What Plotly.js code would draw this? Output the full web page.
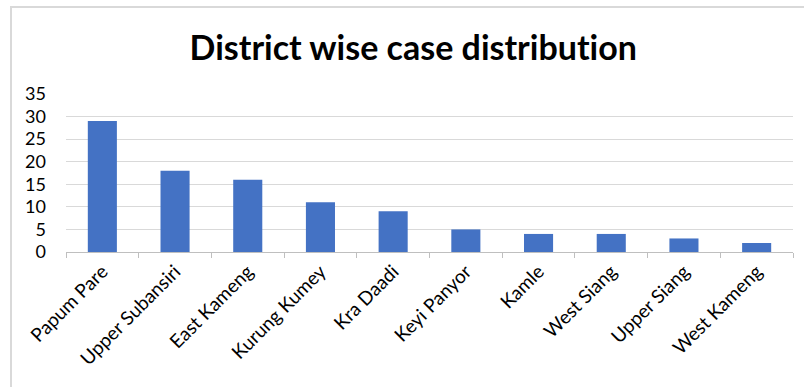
<!DOCTYPE html>
<html>
<head>
<meta charset="utf-8">
<script src="https://cdn.plot.ly/plotly-3.0.1.min.js"></script>
<style>
html,body{margin:0;padding:0;background:#fff;}
#wrap{position:relative;width:804px;height:387px;}
#chart{position:absolute;left:0;top:0;width:804px;height:387px;}
.bl{position:absolute;background:#d9d9d9;pointer-events:none;}
text{font-variant-ligatures:none;font-feature-settings:"liga" 0;}
</style>
</head>
<body>
<div id="wrap">
<div id="chart"></div>
<div class="bl" style="left:10px;top:6px;width:2px;height:381px;"></div>
<div class="bl" style="left:10px;top:6px;width:794px;height:2px;"></div>
</div>
<script>
const districts = ["Papum Pare","Upper Subansiri","East Kameng","Kurung Kumey","Kra Daadi","Keyi Panyor","Kamle","West Siang","Upper Siang","West Kameng"];
const cases = [29,18,16,11,9,5,4,4,3,2];
const yTicks = [0,5,10,15,20,25,30,35];

const font = "Lato, 'Open Sans', sans-serif";
Plotly.newPlot('chart', [{
  type: 'bar',
  x: districts,
  y: cases,
  marker: {color: '#4472C4'},
  hoverinfo: 'x+y'
}], {
  width: 804, height: 387,
  margin: {l: 66, r: 11, t: 94, b: 135},
  paper_bgcolor: '#ffffff',
  plot_bgcolor: '#ffffff',
  bargap: 0.6,
  showlegend: false,
  title: {
    text: '<b>District wise case distribution</b>',
    font: {family: font, size: 34, color: '#000'},
    x: 0.514, xanchor: 'center',
    y: 0.877, yanchor: 'middle'
  },
  xaxis: {
    type: 'category',
    tickangle: -45,
    tickfont: {family: font, size: 19, color: '#000'},
    showline: true, linecolor: '#bfbfbf', linewidth: 1,
    ticks: 'outside', tickson: 'boundaries', ticklen: 5, tickcolor: '#bfbfbf',
    showgrid: false,
    fixedrange: true
  },
  yaxis: {
    range: [0, 35],
    tickvals: yTicks,
    ticktext: yTicks.map(String),
    tickfont: {family: font, size: 18, color: '#000'},
    showgrid: true, gridcolor: '#d9d9d9', gridwidth: 1,
    zeroline: false,
    showline: false,
    ticks: '',
    ticklabelstandoff: 19,
    fixedrange: true
  }
}, {displayModeBar: false, staticPlot: true});
</script>
</body>
</html>
